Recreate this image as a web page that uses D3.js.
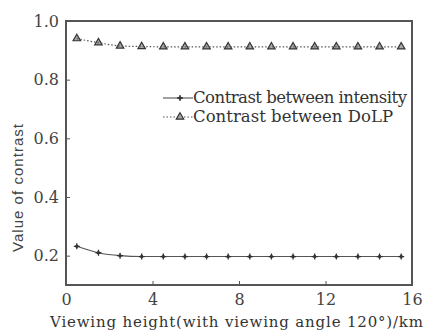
<!DOCTYPE html>
<html>
<head>
<meta charset="utf-8">
<script src="https://cdn.jsdelivr.net/npm/d3@7"></script>
<style>
  body { margin: 0; background: #fff; }
  svg text { font-family: "DejaVu Serif", serif; }
</style>
</head>
<body>
<div id="chart"></div>
<script>
!(function(){
    "use strict"

    var width = 425;
    var height = 332;

    // data
    var heights = [0.5, 1.5, 2.5, 3.5, 4.5, 5.5, 6.5, 7.5, 8.5, 9.5, 10.5, 11.5, 12.5, 13.5, 14.5, 15.5];
    var intensity = [0.232, 0.210, 0.200, 0.197, 0.197, 0.197, 0.197, 0.197, 0.197, 0.197, 0.197, 0.197, 0.197, 0.197, 0.197, 0.197];
    var dolp = [0.940, 0.926, 0.915, 0.913, 0.912, 0.912, 0.912, 0.912, 0.912, 0.912, 0.912, 0.912, 0.912, 0.912, 0.912, 0.912];
    var xTicks = [0, 4, 8, 12, 16];
    var yTicks = [0.2, 0.4, 0.6, 0.8, 1.0];
    var seriesNames = ["Contrast between intensity", "Contrast between DoLP"];

    var margin = {top: 21, right: 13, bottom: 47, left: 66};

    var svg = d3.select("#chart").append("svg")
        .attr("width", width)
        .attr("height", height);

    var x = d3.scaleLinear().domain([0, 16]).range([margin.left, width - margin.right]);
    var y = d3.scaleLinear().domain([0.1, 1.0]).range([height - margin.bottom, margin.top]);

    svg.append("rect")
        .attr("x", x(0)).attr("y", y(1.0))
        .attr("width", x(16) - x(0)).attr("height", y(0.1) - y(1.0))
        .attr("fill", "none").attr("stroke", "#555").attr("stroke-width", 2);

    var xAxis = svg.append("g")
        .attr("transform", "translate(0," + y(0.1) + ")")
        .call(d3.axisBottom(x).tickValues(xTicks).tickSizeInner(-4).tickSizeOuter(0).tickPadding(9).tickFormat(d3.format("d")));
    var yAxis = svg.append("g")
        .attr("transform", "translate(" + x(0) + ",0)")
        .call(d3.axisLeft(y).tickValues(yTicks).tickSizeInner(-4).tickSizeOuter(0).tickPadding(7).tickFormat(d3.format(".1f")));

    [xAxis, yAxis].forEach(function(g){
        g.attr("font-family", null);
        g.select(".domain").remove();
        g.selectAll("line").attr("stroke", "#555");
        g.selectAll("text").attr("font-size", 16).attr("fill", "#444");
    });

    svg.append("text")
        .attr("x", 50).attr("y", 327)
        .attr("font-size", 15)
        .attr("textLength", 373).attr("lengthAdjust", "spacing")
        .attr("fill", "#333")
        .text("Viewing height(with viewing angle 120°)/km");

    svg.append("text")
        .attr("transform", "translate(23,252) rotate(-90)")
        .attr("font-size", 15)
        .attr("textLength", 128).attr("lengthAdjust", "spacing")
        .style("font-family", "Liberation Sans, Arial, sans-serif").attr("fill", "#444")
        .text("Value of contrast");

    var line = d3.line()
        .x(function(d){ return x(d[0]); })
        .y(function(d){ return y(d[1]); })
        .curve(d3.curveMonotoneX);

    var intensityPts = d3.zip(heights, intensity);
    var dolpPts = d3.zip(heights, dolp);

    svg.append("path")
        .datum(intensityPts)
        .attr("d", line)
        .attr("fill", "none").attr("stroke", "#555").attr("stroke-width", 1.1);

    function plus(g, cx, cy) {
        g.append("path")
            .attr("d", "M" + (cx - 3) + "," + cy + "H" + (cx + 3) + "M" + cx + "," + (cy - 3) + "V" + (cy + 3))
            .attr("stroke", "#333").attr("stroke-width", 1.3);
        g.append("circle").attr("cx", cx).attr("cy", cy).attr("r", 1.7).attr("fill", "#333");
    }
    function tri(g, cx, cy) {
        g.append("path")
            .attr("d", d3.symbol().type(d3.symbolTriangle).size(24)())
            .attr("transform", "translate(" + cx + "," + cy + ")")
            .attr("fill", "#aaa").attr("stroke", "#333").attr("stroke-width", 1.2);
    }

    var marks = svg.append("g");
    intensityPts.forEach(function(d){ plus(marks, x(d[0]), y(d[1])); });

    svg.append("path")
        .datum(dolpPts)
        .attr("d", line)
        .attr("fill", "none").attr("stroke", "#555").attr("stroke-width", 1.2)
        .attr("stroke-dasharray", "1.5,2");
    dolpPts.forEach(function(d){ tri(marks, x(d[0]), y(d[1])); });

    var legend = svg.append("g");
    var ly = [98, 117];
    var lw = [214, 200];
    legend.append("line").attr("x1", 163).attr("x2", 193).attr("y1", ly[0]).attr("y2", ly[0])
        .attr("stroke", "#555").attr("stroke-width", 1.1);
    plus(legend, 180, ly[0]);
    legend.append("line").attr("x1", 163).attr("x2", 193).attr("y1", ly[1]).attr("y2", ly[1])
        .attr("stroke", "#555").attr("stroke-width", 1.2).attr("stroke-dasharray", "1.5,2");
    tri(legend, 180, ly[1]);

    seriesNames.forEach(function(name, i){
        legend.append("text")
            .attr("x", 193).attr("y", ly[i] + 5)
            .attr("font-size", 16.5)
            .attr("textLength", lw[i]).attr("lengthAdjust", "spacing")
            .attr("fill", "#333")
            .text(name);
    });

}());
</script>
</body>
</html>
